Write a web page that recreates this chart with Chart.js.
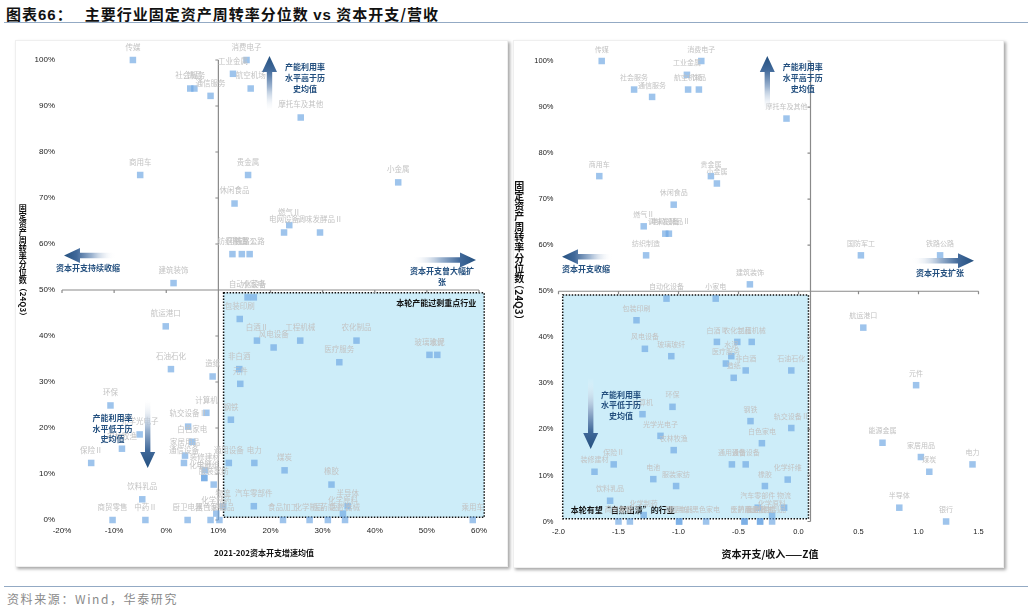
<!DOCTYPE html>
<html>
<head>
<meta charset="utf-8">
<script src="https://cdn.jsdelivr.net/npm/chart.js@4.4.1/dist/chart.umd.min.js"></script>
<style>
  body { margin: 0; width: 1032px; height: 611px; background: #fff; position: relative; overflow: hidden;
         font-family: "Noto Sans CJK SC", "Liberation Sans", sans-serif; }
  .title { position: absolute; left: 6px; top: 3px; font-size: 15px; font-weight: bold; color: #111; white-space: nowrap; letter-spacing: 1px; }
  .title b { font-family: "Liberation Sans", sans-serif; }
  .rule { position: absolute; left: 4px; width: 1024px; height: 0; border-top: 1.5px solid #93aac4; }
  .panel { position: absolute; background: #fff; border: 1px solid #efefef; box-shadow: 2px 2px 3px rgba(0,0,0,.35); }
  canvas { position: absolute; }
  .ystack { position: absolute; font-weight: bold; color: #111; text-align: center; transform: translateX(-50%); }
  .yrot { position: absolute; font-weight: bold; color: #111; white-space: nowrap; transform: translate(-50%, -50%) rotate(90deg); }
  .xtitle { position: absolute; font-weight: bold; color: #111; transform: translateX(-50%); white-space: nowrap; }
  .source { position: absolute; left: 7px; top: 590px; font-size: 12px; color: #8a8a8a; letter-spacing: 1.6px; white-space: nowrap; }
</style>
</head>
<body>
<div class="title">图表<b>66</b>：<span style="margin-left:12px">主要行业固定资产周转率分位数 <b>vs</b> 资本开支/营收</span></div>
<div class="rule" style="top:22px"></div>

<div class="panel" style="left:15px;top:40px;width:491px;height:525px"></div>
<div class="panel" style="left:513px;top:40px;width:489px;height:526px"></div>
<canvas id="leftChart" width="493" height="527" style="left:15px;top:40px"></canvas>
<canvas id="rightChart" width="491" height="528" style="left:513px;top:40px"></canvas>

<div class="ystack" style="left:22.7px;top:204px;font-size:8px;line-height:8px;width:9px">固<br>定<br>资<br>产<br>周<br>转<br>率<br>分<br>位<br>数</div>
<div class="yrot" style="left:22.7px;top:302px;font-size:8px">（24Q3）</div>
<div class="ystack" style="left:519.3px;top:180.5px;font-size:10px;line-height:10.3px;width:11px">固<br>定<br>资<br>产<br>周<br>转<br>率<br>分<br>位<br>数</div>
<div class="yrot" style="left:519.3px;top:302px;font-size:10px">（24Q3）</div>
<div class="xtitle" style="left:264px;top:547px;font-size:8px">2021-202资本开支增速均值</div>
<div class="xtitle" style="left:770px;top:546px;font-size:10px">资本开支/收入——Z值</div>

<div class="rule" style="top:586px"></div>
<div class="source">资料来源：Wind，华泰研究</div>

<script>
// industries, shared by both panels
const industries = [
  '传媒', '消费电子', '工业金属', '社会服务', '饰品', '航空机场', '通信服务', '摩托车及其他',
  '商用车', '贵金属', '小金属', '休闲食品', '燃气Ⅱ', '电网设备', '调味发酵品Ⅱ',
  '纺织制造', '国防军工', '铁路公路', '建筑装饰', '自动化设备', '小家电', '包装印刷', '航运港口',
  '白酒Ⅱ', '工程机械', '农化制品', '风电设备', '玻璃玻纤', '水泥', '医疗服务', '非白酒', '石油石化',
  '造纸', '元件', '环保', '计算机', '钢铁', '轨交设备Ⅱ', '光学光电子', '白色家电', '能源金属',
  '农林牧渔', '家居用品', '保险Ⅱ', '通信设备', '通用设备', '电力', '装修建材', '煤炭', '化学纤维',
  '电池', '服装家纺', '橡胶', '饮料乳品', '物流', '汽车零部件', '半导体', '化学制药', '化学原料',
  '商贸零售', '中药Ⅱ', '厨卫电器', '黑色家电', '个护用品', '食品加工', '化学制品', '医药商业',
  '医疗器械', '乘用车', '银行'
];
// fixed asset turnover percentile, 24Q3 (%)
const turnoverPct = [
  100, 100, 97, 93.8, 93.8, 93.8, 92.2, 87.5,
  75, 75, 73.4, 68.8, 64.1, 62.5, 62.5,
  57.8, 57.8, 57.8, 51.5, 48.4, 48.4, 43.7, 42.1,
  39, 39, 39, 37.5, 35.9, 35.9, 34.3, 32.8, 32.8,
  31.2, 29.6, 24.9, 23.3, 21.8, 20.3, 18.6, 17.0, 17.1,
  15.5, 14.0, 12.4, 12.4, 12.4, 12.4, 10.8, 10.8, 9.1,
  9.2, 7.7, 7.7, 4.5, 3.0, 3.0, 3.0, 1.4, 1.4,
  0, 0, 0, 0, 0, 0, 0, 0,
  0, 0, 0
];
// left panel x: 2021-2024 average capex growth (%)
const capexGrowth = [
  -6.4, 15.4, 12.8, 4.6, 5.4, 16.2, 8.5, 25.8,
  -5.0, 15.7, 44.5, 13.1, 23.6, 22.6, 29.5,
  12.7, 14.5, 16.0, 1.4, 15.6, 16.8, 14.1, -0.1,
  17.4, 25.7, 36.5, 20.6, 50.5, 52.0, 33.2, 14.0, 0.9,
  8.9, 14.2, -10.7, 7.7, 12.4, 4.2, -5.1, 5.0, null,
  -8.5, 3.6, -14.4, 3.4, 12.0, 16.9, 7.4, 22.7, 7.3,
  7.3, 9.1, 31.7, -4.6, 10.9, 16.8, 34.8, 9.6, 33.9,
  -10.3, -4.0, 4.1, 8.5, 10.2, 22.4, 27.5, 31.0,
  34.3, 58.8, null
];
// right panel x: capex / revenue z-score
const capexZ = [
  -1.64, -0.81, -0.93, -1.37, -0.83, -0.92, -1.22, -0.10,
  -1.66, -0.73, -0.68, -1.04, -1.29, -1.11, -1.08,
  -1.27, 0.52, 1.18, -0.405, -1.10, -0.69, -1.35, 0.54,
  -0.68, -0.39, -0.51, -1.28, -1.06, -0.56, -0.605, -0.44, -0.06,
  -0.54, 0.98, -1.05, -1.30, -0.40, -0.06, -1.15, -0.305, 0.70,
  -1.04, 1.02, -1.54, -0.44, -0.555, 1.45, -1.70, 1.09, -0.09,
  -1.21, -1.02, -0.28, -1.57, -0.12, -0.34, 0.84, -1.29, -0.22,
  -1.50, -1.405, -0.995, -0.77, -0.45, -0.32, -0.22, -0.45,
  -0.32, -0.995, 1.23
];
// tick labels
const pctTicks = [0, 10, 20, 30, 40, 50, 60, 70, 80, 90, 100];
const growthTicks = [-20, -10, 0, 10, 20, 30, 40, 50, 60];
const zTicks = [-2.0, -1.5, -1.0, -0.5, 0.0, 0.5, 1.0, 1.5];

const NAVY = '#24507f';

function points(xs) {
  return industries
    .map((name, i) => ({ x: xs[i], y: turnoverPct[i], name: name }))
    .filter(p => p.x !== null);
}

function arrow(ctx, x0, y0, x1, y1) {
  const L = Math.hypot(x1 - x0, y1 - y0);
  const ux = (x1 - x0) / L, uy = (y1 - y0) / L, nx = -uy, ny = ux;
  const sw = 2.7, hw = 7.5, hl = 16;
  const bx = x1 - ux * hl, by = y1 - uy * hl;
  const g = ctx.createLinearGradient(x0, y0, x1, y1);
  g.addColorStop(0, 'rgba(255,255,255,0)');
  g.addColorStop(0.45, '#9db4d0');
  g.addColorStop(0.75, '#41699a');
  g.addColorStop(1, NAVY);
  ctx.fillStyle = g;
  ctx.beginPath();
  ctx.moveTo(x0 + nx * sw, y0 + ny * sw);
  ctx.lineTo(bx + nx * sw, by + ny * sw);
  ctx.lineTo(bx + nx * hw, by + ny * hw);
  ctx.lineTo(x1, y1);
  ctx.lineTo(bx - nx * hw, by - ny * hw);
  ctx.lineTo(bx - nx * sw, by - ny * sw);
  ctx.lineTo(x0 - nx * sw, y0 - ny * sw);
  ctx.closePath();
  ctx.fill();
}

// quadrant lines, highlighted box, point labels, arrows and notes
function quadrant(cfg) {
  return {
    id: 'quadrant',
    beforeDatasetsDraw(chart) {
      const { ctx, chartArea: a } = chart;
      const x = chart.scales.x, y = chart.scales.y;
      ctx.save();
      const bx0 = x.getPixelForValue(cfg.box.x[0]), bx1 = x.getPixelForValue(cfg.box.x[1]);
      const by0 = y.getPixelForValue(cfg.box.y[1]), by1 = y.getPixelForValue(cfg.box.y[0]);
      ctx.fillStyle = '#cdedf9';
      ctx.fillRect(bx0, by0, bx1 - bx0, by1 - by0);
      ctx.setLineDash([1.5, 1.5]);
      ctx.strokeStyle = '#111';
      ctx.lineWidth = 1.5;
      ctx.strokeRect(bx0, by0, bx1 - bx0, by1 - by0);
      ctx.setLineDash([]);

      const cx = x.getPixelForValue(cfg.cross[0]), cy = y.getPixelForValue(cfg.cross[1]);
      ctx.strokeStyle = '#8a8a8a';
      ctx.lineWidth = 1.2;
      ctx.beginPath();
      ctx.moveTo(a.left, cy); ctx.lineTo(a.right, cy);
      ctx.moveTo(cx, a.top); ctx.lineTo(cx, a.bottom);
      x.ticks.forEach(t => { const px = x.getPixelForValue(t.value); ctx.moveTo(px, cy); ctx.lineTo(px, cy + 3); });
      y.ticks.forEach(t => { const py = y.getPixelForValue(t.value); ctx.moveTo(cx, py); ctx.lineTo(cx - 3, py); });
      ctx.stroke();

      ctx.fillStyle = '#111';
      ctx.font = 'bold 8px "Noto Sans CJK SC"';
      ctx.textBaseline = 'middle';
      ctx.textAlign = cfg.boxNote.align;
      const nx = cfg.boxNote.align === 'right' ? bx1 - 8 : bx0 + 8;
      const ny = cfg.boxNote.top ? by0 + 10 : by1 - 9;
      ctx.fillText(cfg.boxNote.text, nx, ny);
      ctx.restore();
    },
    afterDatasetsDraw(chart) {
      const { ctx } = chart;
      ctx.save();
      const meta = chart.getDatasetMeta(0);
      const data = chart.data.datasets[0].data;
      ctx.font = cfg.labelFont;
      ctx.fillStyle = '#c3c3c3';
      ctx.textAlign = 'center';
      ctx.textBaseline = 'middle';
      meta.data.forEach((el, i) => ctx.fillText(data[i].name, el.x, el.y - cfg.labelGap));

      ctx.translate(-cfg.origin[0], -cfg.origin[1]);
      cfg.arrows.forEach(r => arrow(ctx, r[0], r[1], r[2], r[3]));
      ctx.fillStyle = NAVY;
      ctx.font = 'bold 8px "Noto Sans CJK SC"';
      cfg.notes.forEach(n => ctx.fillText(n[0], n[1], n[2]));
      ctx.restore();
    }
  };
}

function makeChart(id, pts, xTicks, xFmt, opts) {
  return new Chart(document.getElementById(id), {
    type: 'scatter',
    data: {
      datasets: [{
        data: pts,
        pointStyle: 'rect',
        pointRadius: 4.6,
        pointHoverRadius: 4.6,
        borderWidth: 0,
        backgroundColor: 'rgba(108,166,226,0.66)',
        clip: false
      }]
    },
    options: {
      responsive: false,
      animation: false,
      events: [],
      layout: { padding: opts.padding },
      plugins: { legend: { display: false }, tooltip: { enabled: false } },
      scales: {
        x: {
          type: 'linear', min: xTicks[0], max: xTicks[xTicks.length - 1],
          afterBuildTicks: s => { s.ticks = xTicks.map(v => ({ value: v })); },
          afterFit: s => { s.height = opts.xHeight; },
          grid: { display: false, drawTicks: false },
          border: { display: false },
          ticks: { autoSkip: false, maxRotation: 0, padding: opts.xPad, color: '#222',
                   font: { family: 'Liberation Sans', size: opts.tickSize }, callback: xFmt }
        },
        y: {
          type: 'linear', min: 0, max: 100,
          afterBuildTicks: s => { s.ticks = pctTicks.map(v => ({ value: v })); },
          afterFit: s => { s.width = opts.yWidth; },
          grid: { display: false, drawTicks: false },
          border: { display: false },
          ticks: { autoSkip: false, padding: opts.yPad, color: '#222',
                   font: { family: 'Liberation Sans', size: opts.tickSize }, callback: v => v + '%' }
        }
      }
    },
    plugins: [quadrant(opts.deco)]
  });
}

makeChart('leftChart', points(capexGrowth), growthTicks, v => v + '%', {
  padding: { left: 0, right: 29, top: 20, bottom: 0 },
  xHeight: 47, yWidth: 47, xPad: 6, yPad: 7, tickSize: 8,
  deco: {
    origin: [15, 40],
    cross: [10, 50],
    box: { x: [11, 61], y: [0.6, 49.4] },
    boxNote: { text: '本轮产能过剩重点行业', align: 'right', top: true },
    labelFont: '7.5px "Noto Sans CJK SC"', labelGap: 13,
    arrows: [[269.5, 112, 269.5, 56], [115, 255.5, 64, 255.5], [412, 260, 476, 260], [147.7, 398, 147.7, 468]],
    notes: [
      ['产能利用率', 305, 67], ['水平高于历', 305, 78], ['史均值', 305, 89],
      ['资本开支持续收缩', 88, 268],
      ['资本开支曾大幅扩', 442, 271], ['张', 442, 282],
      ['产能利用率', 112.5, 418], ['水平低于历', 112.5, 428.5], ['史均值', 112.5, 439]
    ]
  }
});

makeChart('rightChart', points(capexZ), zTicks, v => v.toFixed(1), {
  padding: { left: 0, right: 25.5, top: 21, bottom: 0 },
  xHeight: 46.5, yWidth: 45.5, xPad: 6, yPad: 5, tickSize: 7.5,
  deco: {
    origin: [513, 40],
    cross: [0.1, 50],
    box: { x: [-1.965, 0.083], y: [0.6, 49.2] },
    boxNote: { text: '本轮有望“自然出清”的行业', align: 'left', top: false },
    labelFont: '7px "Noto Sans CJK SC"', labelGap: 12,
    arrows: [[767.3, 112, 767.3, 56], [612, 256.7, 562, 256.7], [912, 260.7, 974, 260.7], [590.7, 378, 590.7, 449]],
    notes: [
      ['产能利用率', 802.7, 67], ['水平高于历', 802.7, 78], ['史均值', 802.7, 89],
      ['资本开支收缩', 586, 269],
      ['资本开支扩张', 940, 272.5],
      ['产能利用率', 621, 394.5], ['水平低于历', 621, 405], ['史均值', 621, 415.5]
    ]
  }
});
</script>
</body>
</html>
